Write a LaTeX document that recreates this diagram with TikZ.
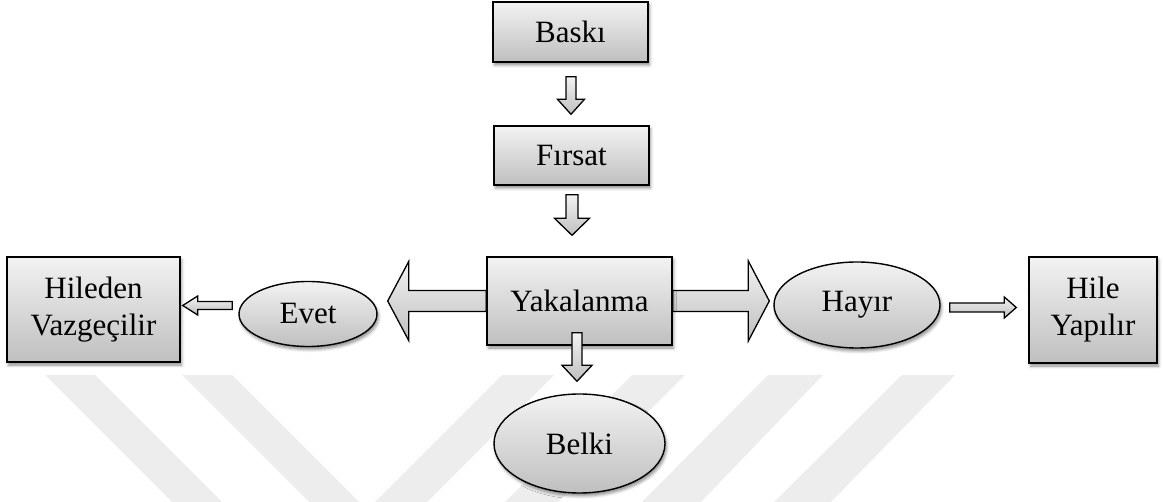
\documentclass[tikz,border=0pt]{standalone}
\usepackage{fontspec}
\setmainfont{Liberation Serif}
\usetikzlibrary{shapes.geometric,shadows.blur,calc}

\pgfdeclarelayer{back}
\pgfsetlayers{back,main}

\tikzset{
  grad/.style={top color=black!5, bottom color=black!25},
  dropshadow/.style={blur shadow={shadow xshift=1.5pt, shadow yshift=-3pt,
      shadow blur radius=3pt, shadow opacity=45}},
  boxnode/.style={rectangle, draw=black, line width=1.4pt, grad, dropshadow,
      inner sep=0pt, align=center, font=\fontsize{31}{37}\selectfont},
  ovalnode/.style={boxnode, ellipse},
  blockarrow/.style={draw=black, line width=1.3pt, line join=miter, grad},
  wmark/.style={fill={rgb,255:red,237;green,237;blue,237}, draw=none}
}

% block arrow pointing down: start point, tip point, shaft half width,
% head half width, head length
\newcommand\downarrowblk[5]{%
  \path[blockarrow] let \p1=(#1), \p2=(#2) in
    ({\x2-#3},\y1) -- ({\x2-#3},{\y2+#5}) -- ({\x2-#4},{\y2+#5}) -- (\x2,\y2)
    -- ({\x2+#4},{\y2+#5}) -- ({\x2+#3},{\y2+#5}) -- ({\x2+#3},\y1) -- cycle;}

% horizontal block arrow: start point, tip point, shaft half width,
% head half width, signed head length (negative when pointing left)
\newcommand\sidearrowblk[5]{%
  \path[blockarrow] let \p1=(#1), \p2=(#2), \n1={#5} in
    (\x1,{\y1+#3}) -- ({\x2-\n1},{\y1+#3}) -- ({\x2-\n1},{\y1+#4}) -- (\x2,\y1)
    -- ({\x2-\n1},{\y1-#4}) -- ({\x2-\n1},{\y1-#3}) -- (\x1,{\y1-#3}) -- cycle;}

\begin{document}
\begin{tikzpicture}[x=1pt,y=-1pt]
\useasboundingbox (0,0) rectangle (1163,502);

% faint diagonal bands in the lower part
\fill[wmark] (45,375) -- (95,375) -- (222,502) -- (172,502) -- cycle;
\fill[wmark] (182,375) -- (232,375) -- (359,502) -- (309,502) -- cycle;
\fill[wmark] (502,375) -- (554,375) -- (427,502) -- (375,502) -- cycle;
\fill[wmark] (632,375) -- (685,375) -- (558,502) -- (505,502) -- cycle;
\fill[wmark] (768,375) -- (823,375) -- (701,502) -- (642,502) -- cycle;
\fill[wmark] (902,375) -- (955,375) -- (831,502) -- (774,502) -- cycle;

% boxes and ovals
\node[boxnode, minimum width=155pt, minimum height=60pt] (baski) at (570.5,32) {Baskı};
\node[boxnode, minimum width=155pt, minimum height=59pt] (firsat) at (571.5,155.5) {Fırsat};
\node[boxnode, minimum width=185pt, minimum height=88pt] (yak) at (579.5,301) {Yakalanma};
\node[ovalnode, minimum width=138pt, minimum height=65pt] (evet) at (308,314) {Evet};
\node[ovalnode, minimum width=166pt, minimum height=86pt] (hayir) at (857,305) {Hayır};
\node[boxnode, minimum width=173pt, minimum height=105pt] (hil) at (93.5,309.5) {Hileden\\Vazgeçilir};
\node[boxnode, minimum width=128pt, minimum height=106pt] (hile) at (1093,310) {Hile\\Yapılır};
\node[ovalnode, minimum width=171pt, minimum height=99pt] (belki) at (579.5,443.5) {Belki};

% the two wide arrows leaving Yakalanma sit behind its box
\begin{pgfonlayer}{back}
  \sidearrowblk{yak.west}{$(evet.east)+(10,0)$}{10.5pt}{39.5pt}{-21pt}
  \sidearrowblk{yak.east}{$(hayir.west)+(-4,0)$}{10.5pt}{40pt}{21pt}
\end{pgfonlayer}

% vertical arrows
\downarrowblk{$(baski.south)+(0,14)$}{$(firsat.north)+(-0.5,-11)$}{5pt}{13.5pt}{15pt}
\downarrowblk{$(firsat.south)+(0,9)$}{$(yak.north)+(-7.5,-21)$}{6pt}{17.5pt}{17pt}
\downarrowblk{$(yak.south)+(0,-13)$}{$(belki.north)+(-2.5,-12)$}{5pt}{15pt}{16pt}

% small outer arrows
\sidearrowblk{$(evet.west)+(-6,-8.5)$}{$(hil.east)+(2,0)$}{4pt}{9.5pt}{-15pt}
\sidearrowblk{$(hayir.east)+(9,2.5)$}{$(hile.west)+(-12,0)$}{4.5pt}{10.5pt}{12pt}
\end{tikzpicture}
\end{document}
